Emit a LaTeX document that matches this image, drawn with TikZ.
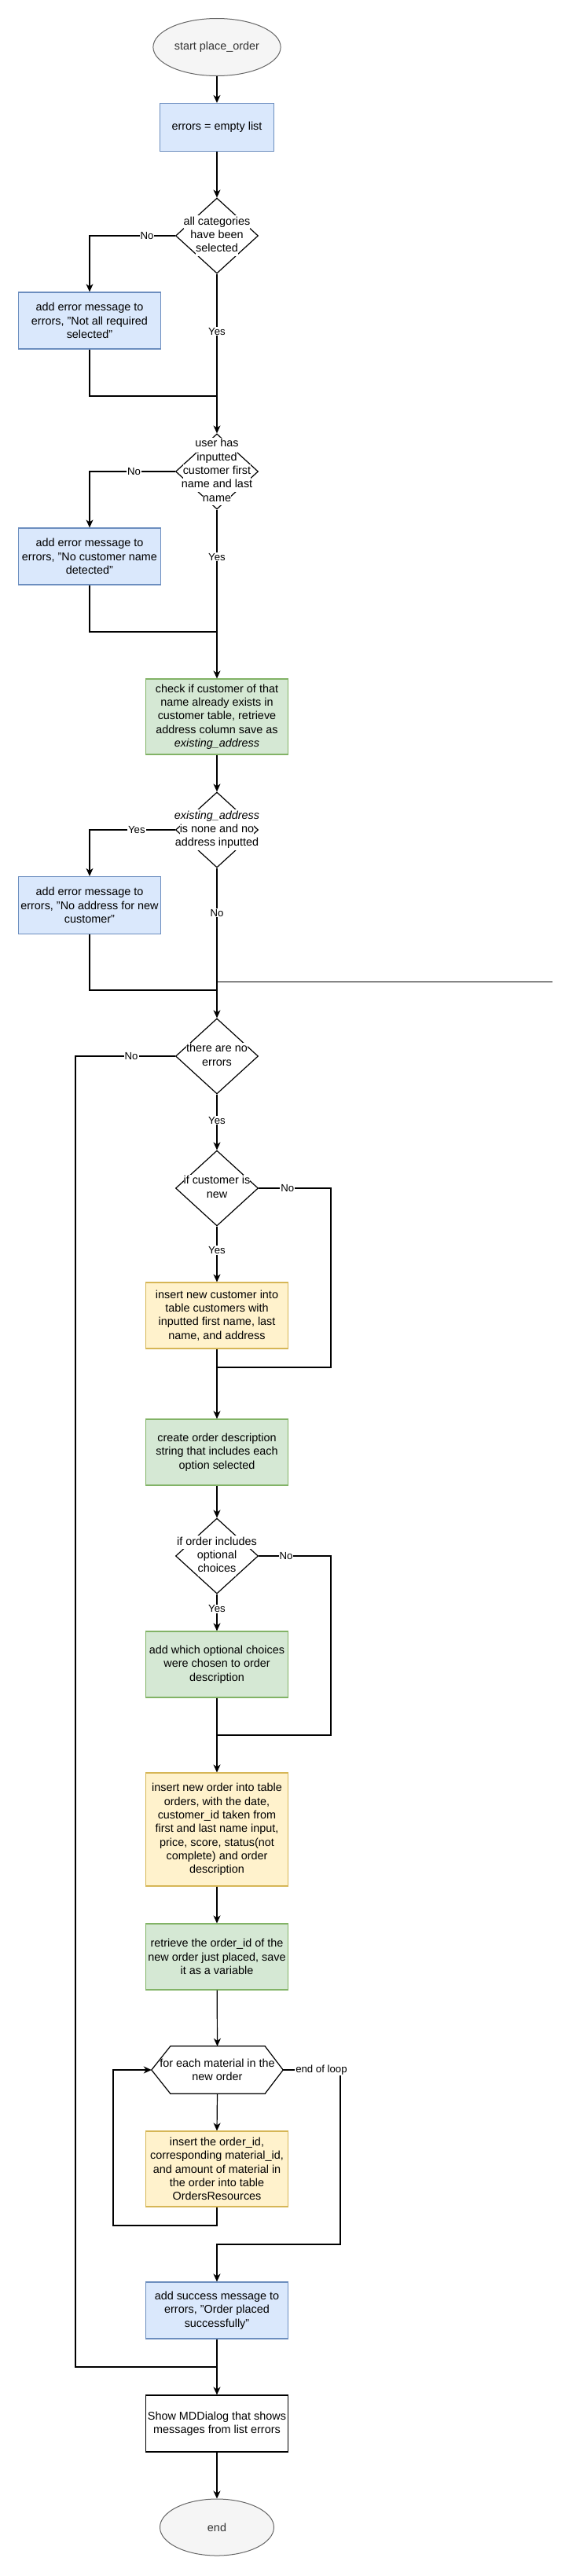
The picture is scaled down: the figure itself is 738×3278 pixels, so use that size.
\documentclass[tikz,border=0pt]{standalone}
\usepackage{fontspec}
\setmainfont{Liberation Sans}
\usetikzlibrary{arrows.meta,shapes.geometric}

\definecolor{bluefill}{HTML}{DAE8FC}
\definecolor{blueline}{HTML}{6C8EBF}
\definecolor{greenfill}{HTML}{D5E8D4}
\definecolor{greenline}{HTML}{82B366}
\definecolor{yellowfill}{HTML}{FFF2CC}
\definecolor{yellowline}{HTML}{D6B656}
\definecolor{greyfill}{HTML}{F5F5F5}
\definecolor{greyline}{HTML}{666666}
\definecolor{greytext}{HTML}{333333}

\setlength{\fboxsep}{0pt}
\newcommand{\bgline}[1]{\colorbox{white}{\strut #1}}

\begin{document}
\begin{tikzpicture}[x=1pt,y=-1pt,
    font=\fontsize{14.4}{17.3}\selectfont,
    box/.style={rectangle, draw, line width=1.2pt, minimum width=181pt, align=center, inner sep=2pt},
    bluebox/.style={box, fill=bluefill, draw=blueline},
    greenbox/.style={box, fill=greenfill, draw=greenline},
    yellowbox/.style={box, fill=yellowfill, draw=yellowline},
    plainbox/.style={box, fill=white, draw=black},
    terminal/.style={ellipse, draw=greyline, fill=greyfill, text=greytext, line width=1pt, minimum width=145pt, minimum height=73pt},
    decision/.style={diamond, draw, line width=1.2pt, minimum width=105pt, minimum height=96pt, inner sep=0pt},
    dtext/.style={align=center, inner sep=0pt},
    elabel/.style={fill=white, inner sep=1pt, font=\fontsize{13.2}{15}\selectfont},
    flow/.style={line width=1.2pt, -{Stealth[length=10pt,width=9pt,inset=3pt]}},
    joinline/.style={line width=1.2pt}]

  \useasboundingbox (0,0) rectangle (738,3278);

  \begin{scope}
    \node[terminal] (start) at (276,60) {start place\_order};
    \node[bluebox, minimum width=145pt, minimum height=61pt] (init) at (276,162) {errors = empty list};
    \node[decision] (d1) at (276,300) {};
    \node[bluebox, minimum height=72pt] (err1) at (114,408) {add error message to\\errors, "Not all required\\selected"};
    \node[decision] (d2) at (276,600) {};
    \node[bluebox, minimum height=72pt] (err2) at (114,708) {add error message to\\errors, "No customer name\\detected"};
    \node[greenbox, minimum height=96pt] (check) at (276,912) {check if customer of that\\name already exists in\\customer table, retrieve\\address column save as\\\textit{existing\_address}};
    \node[decision] (d3) at (276,1056) {};
    \node[bluebox, minimum height=73pt] (err3) at (114,1152) {add error message to\\errors, "No address for new\\customer"};
    \node[decision] (d4) at (276,1344) {};
    \node[decision] (d5) at (276,1512) {};
    \node[yellowbox, minimum height=84pt] (newcust) at (276,1674) {insert new customer into\\table customers with\\inputted first name, last\\name, and address};
    \node[greenbox, minimum height=84pt] (desc) at (276,1848) {create order description\\string that includes each\\option selected};
    \node[decision] (d6) at (276,1980) {};
    \node[greenbox, minimum height=84pt] (optional) at (276,2118) {add which optional choices\\were chosen to order\\description};
    \node[yellowbox, minimum height=144pt] (order) at (276,2328) {insert new order into table\\orders, with the date,\\customer\_id taken from\\first and last name input,\\price, score, status(not\\complete) and order\\description};
    \node[greenbox, minimum height=84pt] (getid) at (276,2490) {retrieve the order\_id of the\\new order just placed, save\\it as a variable};
    \node[rectangle, minimum width=167pt, minimum height=60pt, align=center, inner sep=0pt] (loop) at (276.5,2634) {for each material in the\\new order};
    \node[yellowbox, minimum height=96pt] (ins) at (276,2760) {insert the order\_id,\\corresponding material\_id,\\and amount of material in\\the order into table\\OrdersResources};
    \node[bluebox, minimum height=72pt] (success) at (276,2940) {add success message to\\errors, "Order placed\\successfully"};
    \node[plainbox, minimum height=72pt] (show) at (276,3084) {Show MDDialog that shows\\messages from list errors};
    \node[terminal, minimum height=72pt] (end) at (276,3216) {end};
  \end{scope}

  \draw[line width=1.2pt] (loop.west) -- ([xshift=24pt]loop.north west) -- ([xshift=-23pt]loop.north east)
    -- (loop.east) -- ([xshift=-23pt]loop.south east) -- ([xshift=24pt]loop.south west) -- cycle;

  \begin{scope}[every node/.style={dtext}]
    \node (d1t) at (d1) {\bgline{all categories}\\\bgline{have been}\\\bgline{selected}};
    \node (d2t) at (d2) {\bgline{user has}\\\bgline{inputted}\\\bgline{customer first}\\\bgline{name and last}\\\bgline{name}};
    \node (d3t) at (d3) {\bgline{\textit{existing\_address}}\\\bgline{is none and no}\\\bgline{address inputted}};
    \node (d4t) at (d4) {\bgline{there are no}\\\bgline{errors}};
    \node (d5t) at (d5) {\bgline{if customer is}\\\bgline{new}};
    \node (d6t) at (d6) {\bgline{if order includes}\\\bgline{optional}\\\bgline{choices}};
  \end{scope}

  \coordinate (m1) at (276,504);
  \coordinate (m2) at (276,804);
  \coordinate (m3) at (276,1260);
  \coordinate (m4) at (276,1740);
  \coordinate (m5) at (276,2208);
  \coordinate (m6) at (276,3012);
  \coordinate (r1) at (421,1740);
  \coordinate (r2) at (421,2208);
  \coordinate (noerr) at (96,3012);
  \coordinate (lb) at (144,2832);
  \coordinate (eol) at (433,2856);
  \coordinate (stray) at (703,1249);

  \draw[flow] (start) -- (init);
  \draw[flow] (init) -- (d1);
  \draw[flow] (d1.west) -- node[elabel, pos=0.33] {No} (d1.west -| err1.north) -- (err1.north);
  \draw[flow] (d1.south) -- node[elabel, pos=0.36] {Yes} (d2.north);
  \draw[joinline] (err1.south) |- (m1);
  \draw[flow] (d2.west) -- node[elabel, pos=0.48] {No} (d2.west -| err2.north) -- (err2.north);
  \draw[flow] (d2.south) -- node[elabel, pos=0.28] {Yes} (check.north);
  \draw[joinline] (err2.south) |- (m2);
  \draw[flow] (check) -- (d3);
  \draw[flow] (d3.west) -- node[elabel, pos=0.45] {Yes} (d3.west -| err3.north) -- (err3.north);
  \draw[flow] (d3.south) -- node[elabel, pos=0.3] {No} (d4.north);
  \draw[joinline] (err3.south) |- (m3);
  \draw[line width=1pt] (stray -| d4.north) -- (stray);
  \draw[joinline] (d4.west) -- node[elabel, pos=0.44] {No} (d4.west -| noerr) -- (noerr) -- (m6);
  \draw[flow] (d4.south) -- node[elabel, pos=0.47] {Yes} (d5.north);
  \draw[joinline] (d5.east) -- node[elabel, pos=0.4] {No} (d5.east -| r1) -- (r1) -- (m4);
  \draw[flow] (d5.south) -- node[elabel, pos=0.43] {Yes} (newcust.north);
  \draw[flow] (newcust) -- (desc);
  \draw[flow] (desc) -- (d6);
  \draw[joinline] (d6.east) -- node[elabel, pos=0.38] {No} (d6.east -| r2) -- (r2) -- (m5);
  \draw[flow] (d6.south) -- node[elabel, pos=0.4] {Yes} (optional.north);
  \draw[flow] (optional) -- (order);
  \draw[flow] (order) -- (getid);
  \draw[flow] (getid) -- (loop.north);
  \draw[flow] (loop.south) -- (ins.north);
  \draw[flow] (ins.south) |- (lb) |- (loop.west);
  \draw[flow] (loop.east) -- node[elabel, pos=0.67] {end of loop} (loop.east -| eol) -- (eol) -- (eol -| success.north) -- (success.north);
  \draw[flow] (success) -- (show);
  \draw[flow] (show) -- (end);

\end{tikzpicture}
\end{document}
